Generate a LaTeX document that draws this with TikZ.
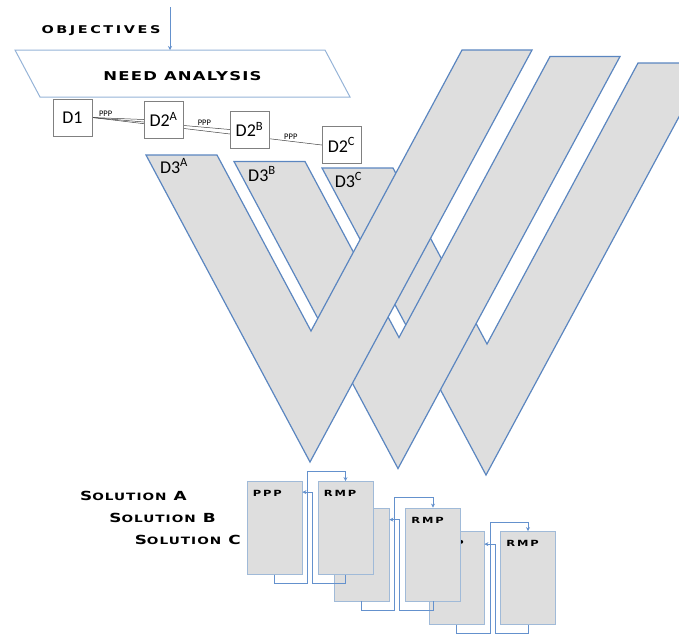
\documentclass[tikz,border=0pt]{standalone}
\usepackage{fontspec}
\setmainfont{Carlito}
\newfontfamily\widefont{DejaVu Sans}[FakeStretch=1.35,LetterSpace=10]
\newfontfamily\spacedfont{DejaVu Sans}[FakeStretch=1.35,LetterSpace=24]
\newfontfamily\cardfont{DejaVu Sans}[FakeStretch=1.35,LetterSpace=22]
\usetikzlibrary{arrows.meta,backgrounds}

\definecolor{vblue}{RGB}{91,134,192}
\definecolor{vgray}{RGB}{222,222,222}
\definecolor{needblue}{RGB}{149,179,215}
\definecolor{boxgray}{RGB}{128,128,128}
\definecolor{cardedge}{RGB}{160,186,216}
\definecolor{flowblue}{RGB}{100,145,205}

\newcommand{\sml}[1]{{\fontsize{10.1}{10.1}\selectfont #1}}

\tikzset{
  vpath/.style={fill=vgray, draw=vblue, line width=1.2pt},
  dbox/.style={draw=boxgray, fill=white, minimum width=39pt, minimum height=37pt, inner sep=0pt, font=\fontsize{18}{18}\selectfont},
  dlabel/.style={font=\fontsize{18}{18}\selectfont, inner sep=0pt, anchor=base},
  pline/.style={draw=black!75, line width=0.5pt},
  ppp/.style={font=\fontsize{8.5}{8.5}\selectfont, inner sep=1.5pt},
  headtext/.style={font=\widefont\bfseries\fontsize{12.2}{12.2}\selectfont, inner sep=0pt},
  sol/.style={font=\widefont\bfseries\fontsize{12.5}{12.5}\selectfont, inner sep=0pt, anchor=base east},
  card/.style={fill=vgray, draw=cardedge, line width=0.8pt, minimum width=55pt, minimum height=93pt, inner sep=0pt},
  cardlabel/.style={font=\cardfont\bfseries\fontsize{8.5}{8.5}\selectfont, anchor=north west, inner sep=0pt, xshift=6pt, yshift=-9pt},
  flow/.style={draw=flowblue, line width=1pt, -{Stealth[length=4pt,width=4pt]}},
}

\begin{document}
\begin{tikzpicture}[x=1pt, y=-1pt]
  \useasboundingbox (0,0) rectangle (679,633);
  \clip (0,0) rectangle (679,633);

  % the three V, back to front
  \foreach \dx/\dy in {176/13, 88/6.5, 0/0}
    \draw[vpath, shift={(\dx,\dy)}] (146,155) -- (217,155) -- (311,331) -- (462,50) -- (532,50) -- (310,462) -- cycle;

  \node[dlabel] (d3a) at (174,173) {D3\textsuperscript{A}};
  \node[dlabel] (d3b) at (262,181) {D3\textsuperscript{B}};
  \node[dlabel] (d3c) at (348.5,187) {D3\textsuperscript{C}};

  % need analysis
  \node[headtext, font=\spacedfont\bfseries\fontsize{10.7}{10.7}\selectfont] (obj) at (101,31) {OBJECTIVES};
  \node[headtext] (need) at (182.5,76.5) {NEED ANALYSIS};
  \draw[needblue, line width=1pt] (15,50) coordinate (needtl) -- (325,50) -- (350,97) -- (40,97) -- cycle;
  \coordinate (objin) at (170,7);
  \draw[flow] (objin) -- (objin |- needtl);

  % D boxes
  \node[dbox] (d1)  at (72.5,117.5) {D1};
  \node[dbox] (d2a) at (163.5,119.5) {D2\textsuperscript{A}};
  \node[dbox] (d2b) at (249.5,129.5) {D2\textsuperscript{B}};
  \node[dbox] (d2c) at (341.5,145) {D2\textsuperscript{C}};
  \begin{scope}[on background layer]
    \draw[pline] (d1.east) -- (d2a.west) node[ppp, above, pos=0.26] {PPP};
    \draw[pline] (d1.east) -- (d2b.west) node[ppp, above, pos=0.815] {PPP};
    \draw[pline] (d1.east) -- (d2c.west) node[ppp, above, pos=0.865] {PPP};
  \end{scope}

  % solutions
  \node[sol] (sola) at (187,500) {S\sml{OLUTION} A};
  \node[sol] (solb) at (216,522) {S\sml{OLUTION} B};
  \node[sol] (solc) at (241,544) {S\sml{OLUTION} C};

  % solution C
  \node[card, label={[cardlabel]north west:PPP}] (c1) at (456.5,578) {};
  \node[card, label={[cardlabel]north west:RMP}, right of=c1, node distance=71.5pt] (c2) {};
  \draw[flow] (c1.south) -- ++(0,9) -- ++(33.5,0) |- ([yshift=9pt]c2.north) -- (c2.north);
  \draw[flow] (c2.south) -- ++(0,9) -- ++(-33,0) |- ([yshift=-13pt]c1.north east);

  % solution B
  \node[card, label={[cardlabel]north west:PPP}] (b1) at (361.5,554.5) {};
  \node[card, label={[cardlabel]north west:RMP}, right of=b1, node distance=71.5pt] (b2) {};
  \draw[flow] (b1.south) -- ++(0,9) -- ++(32.5,0) |- ([yshift=10pt]b2.north) -- (b2.north);
  \draw[flow] (b2.south) -- ++(0,9) -- ++(-34,0) |- ([yshift=-12pt]b1.north east);

  % solution A
  \node[card, label={[cardlabel]north west:PPP}] (a1) at (274.5,528) {};
  \node[card, label={[cardlabel]north west:RMP}, right of=a1, node distance=71pt] (a2) {};
  \draw[flow] (a1.south) -- ++(0,9) -- ++(32.5,0) |- ([yshift=10pt]a2.north) -- (a2.north);
  \draw[flow] (a2.south) -- ++(0,9) -- ++(-33.5,0) |- ([yshift=-11pt]a1.north east);
\end{tikzpicture}
\end{document}
